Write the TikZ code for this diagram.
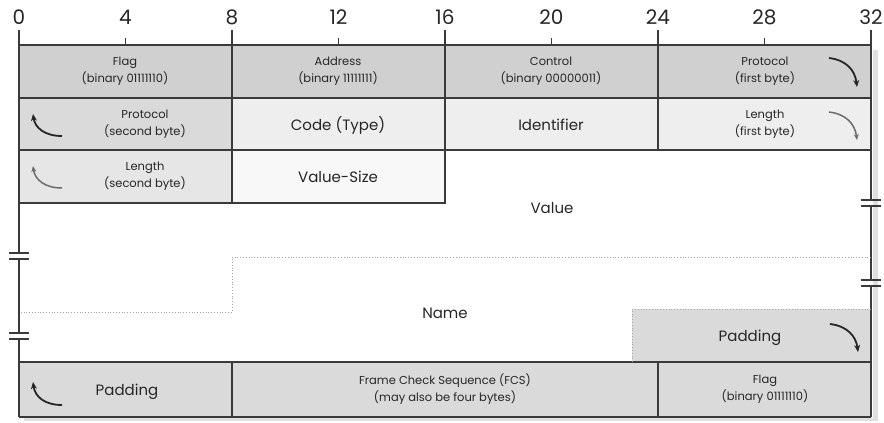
\documentclass[tikz,border=0pt]{standalone}
\usepackage{fontspec}
\setmainfont{Poppins}
\usetikzlibrary{arrows.meta}
\definecolor{ink}{HTML}{262626}
\definecolor{frame}{HTML}{3A3A3A}
\definecolor{dark}{HTML}{D0D0D0}
\definecolor{mid}{HTML}{DADADA}
\definecolor{light}{HTML}{EEEEEE}
\definecolor{lighter}{HTML}{E6E6E6}
\definecolor{pale}{HTML}{F8F8F8}
\tikzset{
  cellline/.style={draw=frame, line width=1.4pt},
  small/.style={font=\fontsize{11.5}{17.5}\selectfont, text=ink, align=center, inner sep=0pt},
  big/.style={font=\fontsize{15}{17}\selectfont, text=ink, align=center, inner sep=0pt},
  rulenum/.style={font=\fontsize{20}{22}\selectfont, text=ink, inner sep=0pt},
  dotline/.style={draw=gray!70, line width=0.8pt, dotted},
  turn/.style={line width=1.8pt, draw=ink, -{Stealth[length=7pt,width=6pt]}},
  turnlight/.style={line width=1.5pt, draw=gray!85!black, -{Stealth[length=6pt,width=5pt]}},
  brk/.style={draw=frame, line width=1.6pt},
}
\begin{document}
\begin{tikzpicture}[x=1pt,y=-1pt]
\useasboundingbox[fill=white] (0,0) rectangle (884,423);
% shadow
\fill[gray!25] (873,50) rectangle (878,421);
\fill[gray!25] (24,418) rectangle (878,421);
% fills
\fill[dark] (19,45) rectangle (871,98);
\fill[mid] (19,98) rectangle (232,150);
\fill[light] (232,98) rectangle (871,150);
\fill[lighter] (19,150) rectangle (232,203);
\fill[pale] (232,150) rectangle (445,203);
\fill[mid] (632,309) rectangle (871,362);
\fill[mid] (19,362) rectangle (871,417);
% ruler
\draw[cellline] (19,45) -- (871,45);
\foreach \b/\lab in {0/0,8/8,16/16,24/24,32/32}{
  \draw[cellline] ({19+26.625*\b},30) -- ({19+26.625*\b},45);
  \node[rulenum] (r\b) at ({19+26.625*\b},17) {\lab};
}
\foreach \b/\lab in {4/4,12/12,20/20,28/28}{
  \draw[cellline] ({19+26.625*\b},38) -- ({19+26.625*\b},45);
  \node[rulenum] (r\b) at ({19+26.625*\b},17) {\lab};
}
% grid lines
\draw[cellline] (19,98) -- (871,98);
\draw[cellline] (19,150) -- (871,150);
\draw[cellline] (19,203) -- (445,203) -- (445,45);
\draw[cellline] (232,45) -- (232,203);
\draw[cellline] (658,45) -- (658,150);
\draw[cellline] (19,362) -- (871,362);
\draw[cellline] (232,362) -- (232,417);
\draw[cellline] (658,362) -- (658,417);
\draw[cellline] (19,417) -- (871,417);
% outer verticals with breaks
\draw[cellline] (19,30) -- (19,253) (19,259) -- (19,333) (19,339) -- (19,417);
\draw[cellline] (871,30) -- (871,200) (871,206) -- (871,280) (871,286) -- (871,417);
\draw[brk] (9,253) -- (29,253) (9,259) -- (29,259) (9,333) -- (29,333) (9,339) -- (29,339);
\draw[brk] (861,200) -- (881,200) (861,206) -- (881,206) (861,280) -- (881,280) (861,286) -- (881,286);
% dotted boundaries
\draw[dotline] (871,257) -- (232,257) -- (232,312) -- (19,312);
\draw[dotline] (871,309) -- (632,309) -- (632,362);
% texts
\node[small] (flag1) at (125,71) {Flag\\(binary 01111110)};
\node[small] (addr) at (338,71) {Address\\(binary 11111111)};
\node[small] (ctrl) at (551,71) {Control\\(binary 00000011)};
\node[small] (prot1) at (765,71) {Protocol\\(first byte)};
\node[small] (prot2) at (145,124) {Protocol\\(second byte)};
\node[big] (code) at (338,125) {Code (Type)};
\node[big] (ident) at (551,125) {Identifier};
\node[small] (len1) at (765,124) {Length\\(first byte)};
\node[small] (len2) at (145,176) {Length\\(second byte)};
\node[big] (vsize) at (338,177) {Value-Size};
\node[big] (value) at (552,208) {Value};
\node[big] (name) at (445,313) {Name};
\node[big] (pad1) at (750,338) {Padding};
\node[big] (pad2) at (127,392) {Padding};
\node[small] (fcs) at (445,389) {Frame Check Sequence (FCS)\\(may also be four bytes)};
\node[small] (flag2) at (765,389) {Flag\\(binary 01111110)};
% turn arrows
\draw[turn] (829,58) .. controls (846,60) and (855,70) .. (857,87);
\draw[turnlight] (829,112) .. controls (846,114) and (855,124) .. (857,140);
\draw[turn] (830,324) .. controls (847,326) and (856,336) .. (858,352);
\draw[turn] (62,136) .. controls (45,136) and (35,128) .. (33,114);
\draw[turnlight] (62,188) .. controls (45,188) and (35,180) .. (33,166);
\draw[turn] (62,405) .. controls (45,405) and (35,397) .. (33,382);
\end{tikzpicture}
\end{document}
